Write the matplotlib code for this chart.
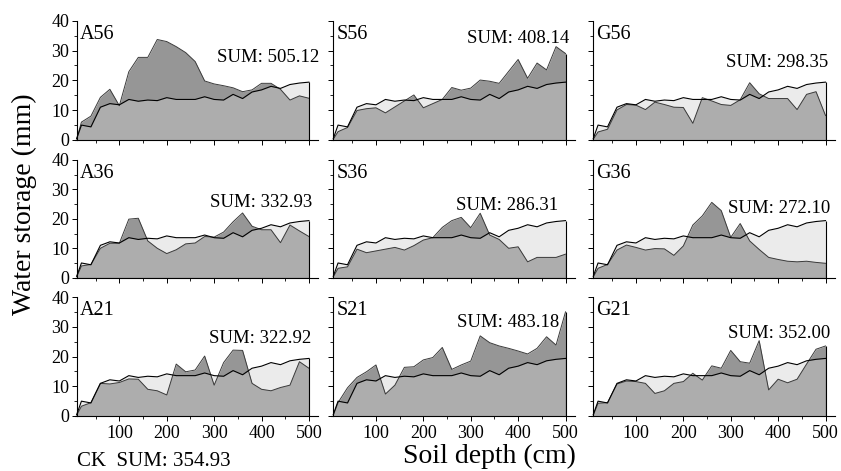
import numpy as np
import matplotlib
matplotlib.use('Agg')
import matplotlib.pyplot as plt
from matplotlib.ticker import MultipleLocator

plt.rcParams['font.family'] = 'Liberation Serif'

# -------------------------------------------
# soil depth (cm) of each layer
depth = [10, 20, 40, 60, 80, 100, 120, 140, 160, 180, 200, 220, 240,
         260, 280, 300, 320, 340, 360, 380, 400, 420, 440, 460, 480, 500]

# control (same in every panel)
ck = [0.5, 5.0, 4.4, 11.0, 12.2, 11.8, 13.6, 13.0, 13.4, 13.2, 14.2, 13.6, 13.6,
      13.6, 14.5, 13.6, 13.4, 15.3, 13.9, 16.1, 16.8, 18.0, 17.3, 18.6, 19.1, 19.4]

a56 = [0.3, 6.0, 8.0, 14.3, 17.0, 11.5, 22.9, 27.7, 27.7, 33.7, 33.0, 31.3, 29.3,
       26.3, 19.8, 18.8, 18.2, 17.5, 16.2, 16.8, 19.0, 19.0, 17.0, 13.4, 14.8, 14.0]
s56 = [0.3, 2.8, 4.2, 9.9, 10.5, 10.8, 9.1, 11.1, 13.1, 15.1, 10.8, 12.2, 13.6,
       17.6, 16.7, 17.4, 20.1, 19.7, 19.0, 23.0, 27.0, 20.7, 25.8, 23.5, 31.3, 29.0]
g56 = [0.3, 2.7, 3.6, 10.1, 11.9, 11.7, 10.2, 12.7, 11.9, 11.0, 10.9, 5.6, 14.2,
       13.1, 11.9, 11.6, 13.5, 19.2, 15.5, 13.9, 13.9, 13.9, 10.2, 15.3, 16.2, 8.2]
a36 = [0.3, 4.0, 4.5, 10.0, 11.7, 11.7, 19.9, 20.2, 12.5, 10.0, 8.2, 9.5, 11.5,
       11.8, 14.0, 13.8, 15.5, 19.0, 22.0, 17.5, 16.3, 16.3, 11.9, 17.9, 15.9, 14.0]
s36 = [0.3, 3.2, 3.7, 9.7, 8.5, 9.1, 9.7, 10.3, 9.4, 10.9, 12.8, 13.6, 17.1,
       19.4, 20.5, 17.0, 21.9, 14.5, 13.0, 10.0, 10.5, 5.4, 6.9, 6.9, 6.9, 8.0]
g36 = [0.3, 3.2, 4.5, 9.4, 11.1, 10.3, 9.4, 9.9, 9.8, 7.6, 10.8, 17.9, 21.0,
       25.6, 22.8, 13.7, 18.4, 12.5, 9.6, 6.9, 6.2, 5.6, 5.4, 5.6, 5.2, 4.9]
a21 = [0.3, 3.3, 4.5, 11.0, 10.8, 11.3, 12.5, 12.4, 9.0, 8.5, 7.1, 17.5, 14.9,
       15.5, 20.2, 10.4, 18.0, 22.2, 22.1, 11.0, 9.0, 8.5, 9.6, 10.4, 18.3, 16.1]
s21 = [0.3, 4.5, 9.5, 13.0, 14.9, 17.2, 7.4, 10.4, 16.4, 16.6, 18.9, 19.7, 23.1,
       15.7, 17.2, 18.5, 27.0, 24.7, 23.6, 22.8, 21.9, 20.9, 22.8, 26.7, 23.9, 35.1]
g21 = [0.3, 4.3, 4.5, 10.8, 11.8, 11.6, 11.0, 7.6, 8.5, 11.0, 11.6, 14.4, 12.1,
       16.9, 16.1, 22.1, 18.3, 17.8, 25.4, 8.8, 12.4, 11.2, 12.4, 17.5, 22.5, 23.6]

names = ['A56', 'S56', 'G56', 'A36', 'S36', 'G36', 'A21', 'S21', 'G21']
series = [a56, s56, g56, a36, s36, g36, a21, s21, g21]
sums = ['505.12', '408.14', '298.35', '332.93', '286.31', '272.10',
        '322.92', '483.18', '352.00']
ck_sum = '354.93'

# SUM label positions (axes fraction, right / baseline)
sum_pos = [(1.005, 0.655), (0.978, 0.812), (0.972, 0.616),
           (0.976, 0.603), (0.931, 0.575), (0.98, 0.547),
           (0.972, 0.612), (0.936, 0.752), (0.98, 0.655)]

light = '#ebebeb'
mid = '#adadad'
dark = '#969696'

# -------------------------------------------

W, H = 841, 471
fig = plt.figure(figsize=(W / 100, H / 100), dpi=100)

lefts = [74.8, 331.4, 591.4]
bottoms = [140.0, 277.7, 416.0]
heights = [119.3, 117.7, 118.7]
width = 243.6

for i, (name, tr) in enumerate(zip(names, series)):
    r, c = divmod(i, 3)
    ax = fig.add_axes([lefts[c] / W, 1 - bottoms[r] / H, width / W, heights[r] / H])

    ax.fill_between(depth, 0, ck, color=light, lw=0)
    p_tr = ax.fill_between(depth, 0, tr, color=dark, lw=0)
    p_mid = ax.fill_between(depth, 0, ck, color=mid, lw=0)
    p_mid.set_clip_path(p_tr.get_paths()[0], ax.transData)

    ax.plot(depth, tr, color='#3a3a3a', lw=0.7)
    ax.plot(depth, ck, color='black', lw=0.8)
    ax.vlines(depth[-1], 0, max(ck[-1], tr[-1]), color='black', lw=0.8)

    ax.set_xlim(6, 520)
    ax.set_ylim(0, 40)
    ax.spines['top'].set_visible(False)
    ax.spines['right'].set_visible(False)
    ax.spines['left'].set_position(('data', 10))
    ax.spines['left'].set_linewidth(0.8)
    ax.spines['bottom'].set_linewidth(0.8)

    ax.xaxis.set_major_locator(MultipleLocator(100))
    ax.xaxis.set_minor_locator(MultipleLocator(50))
    ax.yaxis.set_major_locator(MultipleLocator(10))
    ax.yaxis.set_minor_locator(MultipleLocator(5))
    ax.tick_params(which='major', direction='out', length=3.5, width=0.7,
                   labelsize=13, pad=2)
    ax.tick_params(which='minor', direction='out', length=2, width=0.6)
    ax.tick_params(axis='x', pad=3)
    ax.set_xticks([100, 200, 300, 400, 500])
    if r < 2:
        ax.tick_params(axis='x', labelbottom=False)
    if c > 0:
        ax.tick_params(axis='y', labelleft=False)

    ax.text(0.02, 0.85, name, transform=ax.transAxes, fontsize=14.5,
            va='baseline', ha='left')
    sx, sy = sum_pos[i]
    ax.text(sx, sy, 'SUM: ' + sums[i], transform=ax.transAxes, fontsize=13.5,
            va='baseline', ha='right')

fig.text(0.0285, 0.567, 'Water storage (mm)', rotation=90, fontsize=20,
         ha='center', va='center')
fig.text(0.5815, 0.03, 'Soil depth (cm)', fontsize=20, ha='center', va='center')
fig.text(0.0916, 0.0106, 'CK  SUM: ' + ck_sum, fontsize=15, ha='left',
         va='baseline')

fig.savefig('out.png', dpi=100)
